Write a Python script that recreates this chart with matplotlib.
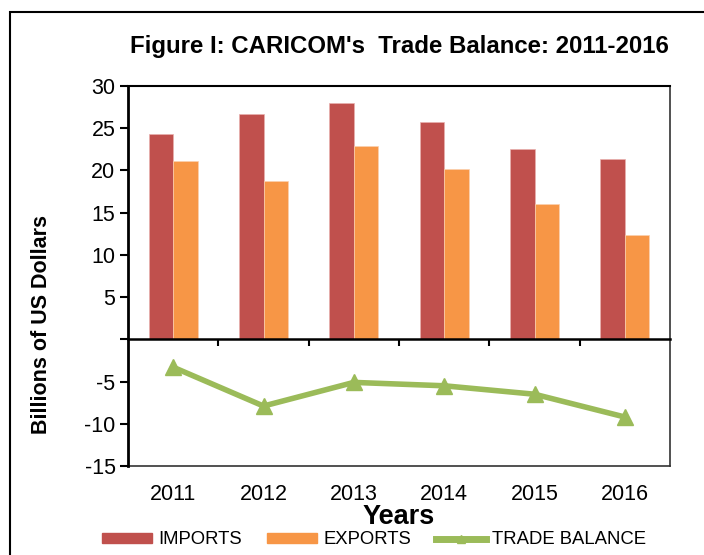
import numpy as np
import matplotlib
matplotlib.use("Agg")
import matplotlib.pyplot as plt
from matplotlib.patches import Rectangle
from matplotlib.lines import Line2D
from matplotlib.ticker import FuncFormatter

plt.rcParams['font.family'] = ['Liberation Sans', 'DejaVu Sans']

# data (billions of US dollars)
years = ['2011', '2012', '2013', '2014', '2015', '2016']
imports = [24.3, 26.7, 28.0, 25.7, 22.5, 21.3]
exports = [21.1, 18.8, 22.9, 20.2, 16.0, 12.3]
trade_balance = [-3.3, -7.9, -5.1, -5.5, -6.5, -9.2]

c_imp = '#C0504D'
c_exp = '#F79646'
c_bal = '#9BBB59'

fig = plt.figure(figsize=(7.04, 5.55), dpi=100)
ax = fig.add_axes([128 / 704, 1 - 466 / 555, 542 / 704, 380 / 555])

x = np.arange(len(years))
w = 0.27
ax.bar(x - w / 2, imports, w, color=c_imp, edgecolor='#e8b0ae', linewidth=0.5)
ax.bar(x + w / 2, exports, w, color=c_exp, edgecolor='#fbd0b0', linewidth=0.5)
ax.plot(x, trade_balance, color=c_bal, lw=4, marker='^', ms=11, zorder=4)

ax.set_xlim(-0.5, len(years) - 0.5)
ax.set_ylim(-15, 30)
ax.set_yticks(np.arange(-15, 31, 5))
ax.yaxis.set_major_formatter(FuncFormatter(lambda v, p: '' if v == 0 else f'{v:g}'))
ax.tick_params(axis='y', direction='out', length=6, width=1.5, labelsize=15.5, pad=3)

# category axis sits on the zero line, ticks between groups
ax.spines['bottom'].set_position(('data', 0))
ax.spines['bottom'].set_linewidth(1.8)
ax.set_xticks(x[:-1] + 0.5)
ax.set_xticklabels([])
ax.tick_params(axis='x', direction='out', length=5, width=1.5)

ax.spines['left'].set_linewidth(2)
ax.spines['top'].set_linewidth(1.5)
ax.spines['right'].set_linewidth(1.2)
ax.spines['right'].set_color('#333333')

# year labels under the plot frame
sec = ax.secondary_xaxis(0)
sec.set_xticks(x)
sec.set_xticklabels(years)
sec.tick_params(length=0, labelsize=15.5, pad=13)
sec.spines['bottom'].set_linewidth(1.2)
sec.spines['bottom'].set_color('#333333')
sec.set_xlabel('Years', fontsize=19.5, fontweight='bold', labelpad=-1)

ax.set_ylabel('Billions of US Dollars', fontsize=15.5, fontweight='bold')
ax.yaxis.set_label_coords(-76 / 542, (466 - 324) / 380)
fig.text(399 / 704, 1 - 47 / 555, "Figure I: CARICOM's  Trade Balance: 2011-2016",
         ha='center', va='center', fontsize=17.3, fontweight='bold')

handles = [Rectangle((0, 0), 1, 1, color=c_imp),
           Rectangle((0, 0), 1, 1, color=c_exp),
           Line2D([], [], color=c_bal, lw=5, marker='^', ms=6)]
fig.legend(handles, ['IMPORTS', 'EXPORTS', 'TRADE BALANCE'], loc='center',
           bbox_to_anchor=(374 / 704, 1 - 540 / 555), ncol=3, frameon=False,
           fontsize=13.3, handlelength=2.7, handleheight=0.5, columnspacing=1.35,
           handletextpad=0.35, borderpad=0)

# outer chart border (cropped on the right and bottom)
fig.patches.append(Rectangle((10 / 704, -0.2), 1.5, 1.2 - 12 / 555, fill=False,
                             edgecolor='black', lw=1.5, transform=fig.transFigure))

fig.savefig('out.png', dpi=100)
